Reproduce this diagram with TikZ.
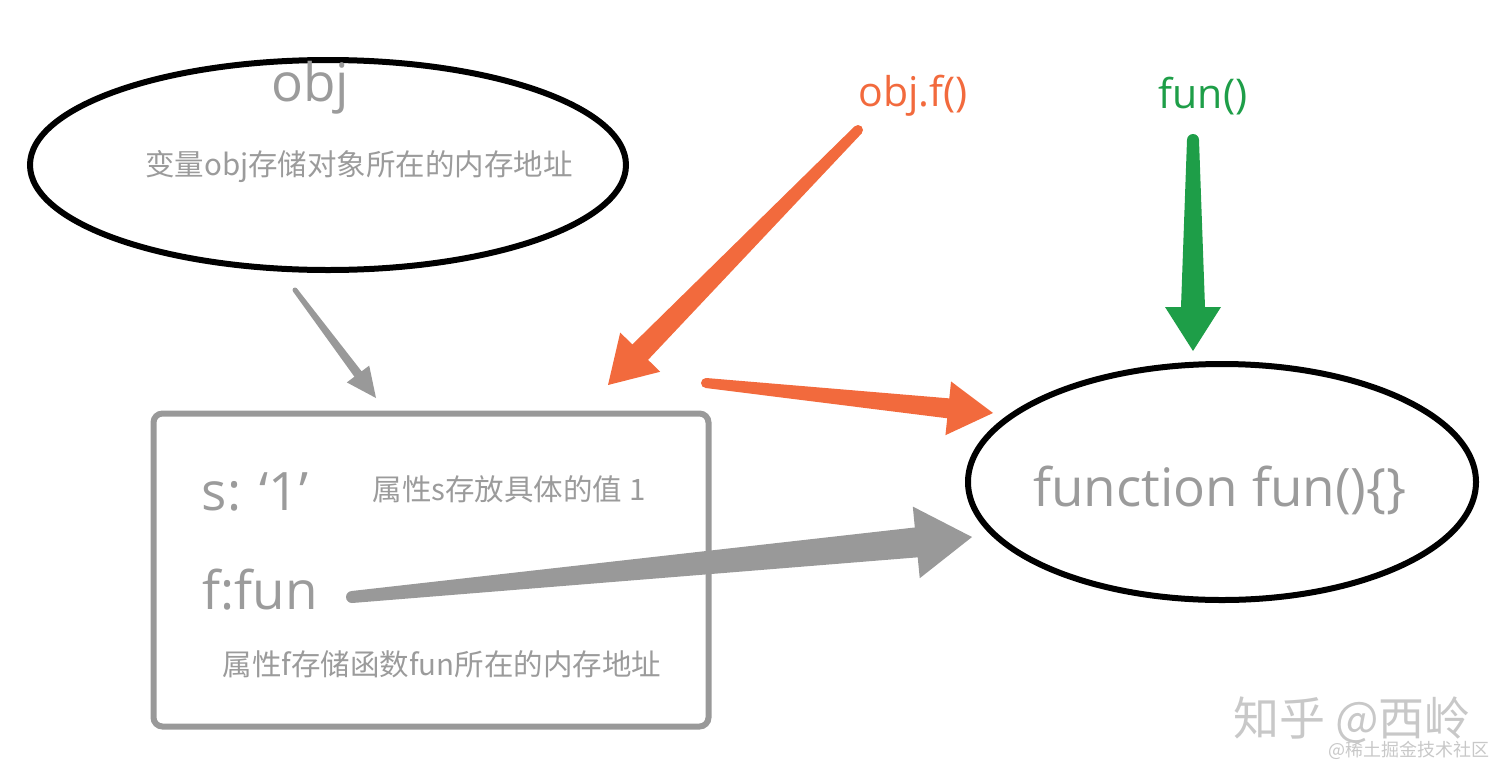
\documentclass[tikz,border=0pt]{standalone}
\usepackage{fontspec}
\setmainfont{Noto Sans CJK SC}
\newfontfamily\codefont{Open Sans}
\usepackage{xcolor}
\definecolor{MEMgray}{HTML}{9B9B9B}
\definecolor{ARRgray}{HTML}{999999}
\definecolor{CALLorange}{HTML}{F26A3D}
\definecolor{CALLgreen}{HTML}{1E9E48}
\definecolor{MARKgray}{HTML}{C8C8C8}
\usepackage{tikz}
\usetikzlibrary{calc,shapes.geometric}
\newcommand\taperarrow[7]{%
  \coordinate (tp-base) at ($(#2)!#7!(#1)$);
  \fill[#3] ($(#1)!#4!90:(#2)$) -- ($(tp-base)!#5!90:(#2)$) -- ($(tp-base)!#6!90:(#2)$) -- (#2)
    -- ($(tp-base)!#6!-90:(#2)$) -- ($(tp-base)!#5!-90:(#2)$) -- ($(#1)!#4!-90:(#2)$) -- cycle;
  \fill[#3] (#1) circle[radius=#4];}

\begin{document}
\begin{tikzpicture}[x=1pt,y=-1pt,
  oval/.style={draw=black,line width=6pt,ellipse,inner sep=0pt},
  membox/.style={draw=ARRgray,line width=6pt,rounded corners=9pt,
    minimum width=555pt,minimum height=313pt},
  big/.style={text=MEMgray,font=\codefont\fontsize{53}{58}\selectfont,inner sep=0pt},
  note/.style={text=MEMgray,font=\fontsize{29.5}{32}\selectfont,inner sep=0pt},
  call/.style={font=\codefont\fontsize{41}{45}\selectfont,inner sep=0pt},
  watermark/.style={text=MARKgray,inner sep=0pt}]
\useasboundingbox (0,0) rectangle (1512,782);
\node[oval,minimum width=596pt,minimum height=210pt] (objoval) at (328,165) {};
\node[big] (objname) at (310,88) {obj};
\node[note] (objnote) at (359,167) {变量obj存储对象所在的内存地址};
\node[membox] (heap) at (431,570) {};
\node[big] (sval) at (255,492) {s: ‘1’};
\node[note] (snote) at (509,489) {属性s存放具体的值 1};
\node[big] (fval) at (260,590) {f:fun};
\node[note] (fnote) at (442,664) {属性f存储函数fun所在的内存地址};
\node[oval,minimum width=508pt,minimum height=236pt] (funoval) at (1222,482) {};
\node[big] (funtext) at (1220,490) {function fun()\{\}};
\node[call,text=CALLorange] (objcall) at (913,96) {obj.f()};
\node[call,text=CALLgreen] (funcall) at (1203,96) {fun()};
\node[watermark,font=\fontsize{46}{50}\selectfont] (zhihu) at (1352,720) {知乎 @西岭};
\node[watermark,font=\fontsize{18}{20}\selectfont] (juejin) at (1409,750) {@稀土掘金技术社区};
\coordinate (objtail) at (295,290);
\coordinate (heaptop) at (376,398);
\coordinate (calltail) at (858,130);
\coordinate (heapin) at (608,385);
\coordinate (reftail) at (706,383);
\coordinate (funin) at (993,413);
\coordinate (funtail) at (1193,140);
\coordinate (funtop) at (1193,351);
\coordinate (ftail) at (352,597);
\coordinate (funleft) at (972,537);
\taperarrow{objtail}{heaptop}{ARRgray}{2.5pt}{4.5pt}{14pt}{30pt}
\taperarrow{calltail}{heapin}{CALLorange}{5pt}{11pt}{28pt}{46pt}
\taperarrow{reftail}{funin}{CALLorange}{5pt}{10pt}{27pt}{45pt}
\taperarrow{funtail}{funtop}{CALLgreen}{6pt}{12pt}{28pt}{44pt}
\taperarrow{ftail}{funleft}{ARRgray}{6pt}{15pt}{36pt}{56pt}
\end{tikzpicture}
\end{document}
